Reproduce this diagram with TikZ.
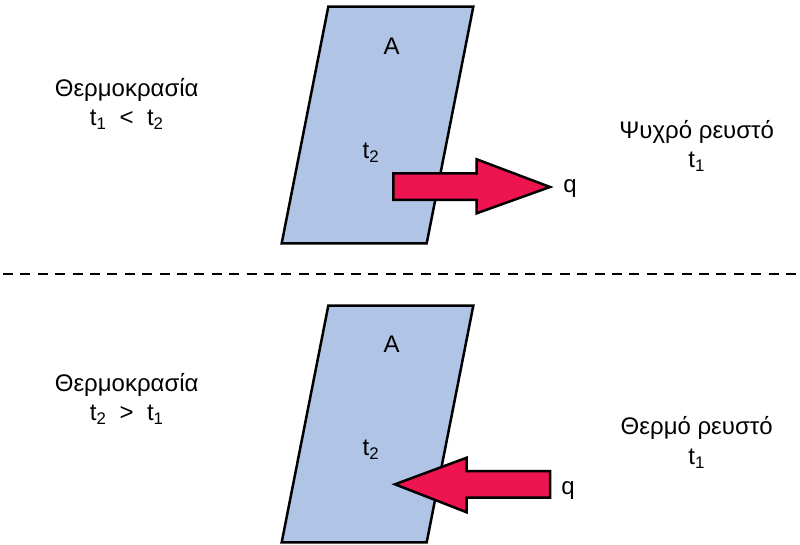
\documentclass[tikz,border=0pt]{standalone}
\usepackage{fontspec}
\setmainfont{Liberation Sans}
\definecolor{plate}{RGB}{176,196,230}
\definecolor{heat}{RGB}{238,20,80}
\begin{document}
\begin{tikzpicture}[x=1pt,y=-1pt,
  platestyle/.style={draw=black,fill=plate,line width=2.5pt,line join=miter},
  arrowstyle/.style={draw=black,fill=heat,line width=2.5pt,line join=miter},
  lbl/.style={font=\fontsize{24}{28}\selectfont,inner sep=0pt,align=center},
  sep/.style={draw=black,line width=2.5pt,dash pattern=on 10pt off 7.4pt}]
\useasboundingbox (0,0) rectangle (800,545);
% top plate
\draw[platestyle] (328.3,6.7) -- (473.3,6.7) -- (426.7,243.3) -- (281.7,243.3) -- cycle;
\node[lbl] (A1) at (391.7,46.7) {A};
\node[lbl] (T1) at (371,153) {t\textsubscript{2}};
\draw[arrowstyle] (393.3,173.3) -- (476.7,173.3) -- (476.7,159.3) -- (550,187) -- (476.7,213.3) -- (476.7,200) -- (393.3,200) -- cycle;
\node[lbl] (q1) at (570,189) {q};
\node[lbl] (L1) at (126.7,90) {Θερμοκρασία};
\node[lbl] (L1b) at (126.7,120) {t\textsubscript{1}\ \ <\ \ t\textsubscript{2}};
\node[lbl] (R1) at (696.7,131.7) {Ψυχρό ρευστό};
\node[lbl] (R1b) at (696.7,162) {t\textsubscript{1}};
% separator
\coordinate (s1) at (3,274);
\coordinate (s2) at (800,274);
\draw[sep] (s1) -- (s2);
% bottom plate
\draw[platestyle] (328.3,305.7) -- (473.3,305.7) -- (426.7,542.3) -- (281.7,542.3) -- cycle;
\node[lbl] (A2) at (391.7,344.3) {A};
\node[lbl] (T2) at (371,450) {t\textsubscript{2}};
\draw[arrowstyle] (550,471) -- (466.7,471) -- (466.7,457.7) -- (395,484.3) -- (466.7,512.3) -- (466.7,497.7) -- (550,497.7) -- cycle;
\node[lbl] (q2) at (568,491) {q};
\node[lbl] (L2) at (126.7,385) {Θερμοκρασία};
\node[lbl] (L2b) at (126.7,415) {t\textsubscript{2}\ \ >\ \ t\textsubscript{1}};
\node[lbl] (R2) at (696.7,428) {Θερμό ρευστό};
\node[lbl] (R2b) at (696.7,459) {t\textsubscript{1}};
\end{tikzpicture}
\end{document}
